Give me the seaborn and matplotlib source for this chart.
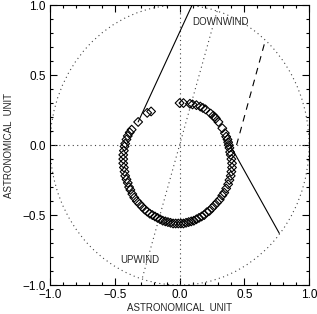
import matplotlib
matplotlib.use("Agg")
import matplotlib.pyplot as plt
import pandas as pd
import seaborn as sns
from matplotlib.ticker import MultipleLocator

# orbit positions (AU), clockwise from the top
orbit_x = [0.0, 0.03, 0.08, 0.10, 0.13, 0.16, 0.18, 0.20, 0.24, 0.26, 0.27, 0.28,
           0.30, 0.33, 0.35, 0.36, 0.37, 0.375, 0.38, 0.385, 0.39, 0.395, 0.40, 0.405,
           0.405, 0.40, 0.395, 0.385, 0.375, 0.36, 0.345, 0.33, 0.31, 0.29, 0.27, 0.25,
           0.23, 0.21, 0.19, 0.17, 0.15, 0.13, 0.11, 0.09, 0.07, 0.05, 0.03, 0.01,
           -0.01, -0.03, -0.05, -0.07, -0.09, -0.11, -0.13, -0.15, -0.17, -0.19, -0.21,
           -0.23, -0.25, -0.27, -0.29, -0.31, -0.33, -0.35, -0.365, -0.38, -0.39, -0.40,
           -0.41, -0.42, -0.425, -0.43, -0.435, -0.435, -0.435, -0.43, -0.425, -0.42,
           -0.41, -0.40, -0.385, -0.37, -0.32, -0.25, -0.22]
orbit_y = [0.30, 0.30, 0.295, 0.29, 0.285, 0.275, 0.265, 0.255, 0.225, 0.21, 0.20, 0.19,
           0.165, 0.12, 0.085, 0.06, 0.04, 0.02, 0.0, -0.02, -0.05, -0.07, -0.10, -0.13,
           -0.16, -0.19, -0.22, -0.25, -0.28, -0.31, -0.34, -0.36, -0.39, -0.41, -0.43, -0.45,
           -0.47, -0.48, -0.50, -0.51, -0.52, -0.53, -0.54, -0.545, -0.55, -0.555, -0.56, -0.56,
           -0.56, -0.56, -0.56, -0.555, -0.55, -0.545, -0.54, -0.53, -0.52, -0.51, -0.50,
           -0.49, -0.475, -0.46, -0.44, -0.42, -0.40, -0.375, -0.35, -0.32, -0.30, -0.27,
           -0.245, -0.22, -0.19, -0.16, -0.13, -0.10, -0.07, -0.04, -0.01, 0.01,
           0.04, 0.065, 0.09, 0.11, 0.165, 0.23, 0.24]

# guide lines (start x, start y, end x, end y)
wind_axis = [0.29, 0.957, -0.29, -0.957]
solid_a = [-0.32, 0.165, 0.097, 1.0]
solid_b = [0.39, 0.0, 0.77, -0.63]
dashed = [0.44, 0.0, 0.66, 0.74]

df = pd.DataFrame({"x": orbit_x, "y": orbit_y})

sns.set_style("ticks")
plt.rcParams["font.family"] = ["Liberation Sans", "DejaVu Sans"]

fig = plt.figure(figsize=(3.17, 3.14), dpi=100)
ax = fig.add_axes([0.158, 0.092, 0.817, 0.892])

dot = (0, (1, 3))
ax.add_patch(plt.Circle((0, 0), 1.0, fill=False, ls=dot, lw=0.8, color="#444444"))
ax.axhline(0, ls=dot, lw=0.8, color="#444444")
ax.axvline(0, ls=dot, lw=0.8, color="#444444")
ax.plot(wind_axis[0::2], wind_axis[1::2], ls=dot, lw=0.8, color="#444444")
ax.plot(solid_a[0::2], solid_a[1::2], color="black", lw=0.8)
ax.plot(solid_b[0::2], solid_b[1::2], color="black", lw=0.8)
ax.plot(dashed[0::2], dashed[1::2], color="black", lw=0.8, ls=(0, (6, 5)))

sns.scatterplot(data=df, x="x", y="y", ax=ax, marker="D", s=20,
                facecolor="none", edgecolor="black", linewidth=0.8, zorder=3)

ax.text(0.097, 0.88, "DOWNWIND", fontsize=7, va="center", ha="left")
ax.text(-0.46, -0.82, "UPWIND", fontsize=7, va="center", ha="left")

ax.set_xlim(-1, 1)
ax.set_ylim(-1, 1)
ax.xaxis.set_major_locator(MultipleLocator(0.5))
ax.yaxis.set_major_locator(MultipleLocator(0.5))
ax.xaxis.set_minor_locator(MultipleLocator(0.1))
ax.yaxis.set_minor_locator(MultipleLocator(0.1))
ax.tick_params(which="both", direction="in", top=True, right=True, width=0.8,
               labelsize=8.5, colors="black")
ax.tick_params(which="major", length=5, pad=3)
ax.tick_params(which="minor", length=2.5)
fmt = plt.FuncFormatter(lambda v, p: f"{v:.1f}".replace("-", "\u2212"))
ax.xaxis.set_major_formatter(fmt)
ax.yaxis.set_major_formatter(fmt)
for s in ax.spines.values():
    s.set_linewidth(0.8)
    s.set_color("black")

ax.set_xlabel("ASTRONOMICAL  UNIT", fontsize=7, labelpad=1)
ax.set_ylabel("ASTRONOMICAL  UNIT", fontsize=7, labelpad=6)

fig.savefig("out.png", dpi=100)
